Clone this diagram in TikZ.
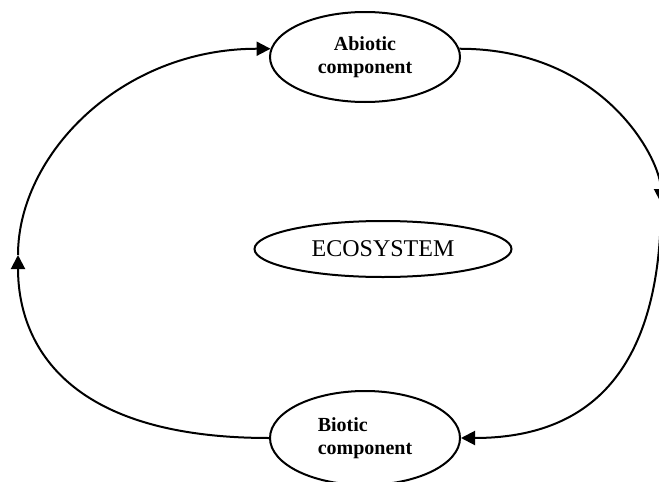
\documentclass[tikz,border=0pt]{standalone}
\usepackage{fontspec}
\setmainfont{Liberation Serif}
\usetikzlibrary{shapes.geometric,arrows.meta}
\tikzset{
  oval/.style={ellipse, draw, line width=2pt, inner sep=0pt},
  comp/.style={oval, minimum width=190pt, font=\fontsize{20}{23}\selectfont\bfseries},
  flow/.style={line width=2pt},
  tip/.style={flow, -{Triangle[length=14pt,width=14pt]}}
}
\begin{document}
\begin{tikzpicture}[x=1pt,y=-1pt]
  \useasboundingbox (0,0) rectangle (659,482);
  \clip (0,0) rectangle (659,482);

  % the three ovals
  \node[comp, minimum height=90pt, align=center] (abi) at (365,57) {Abiotic\\component};
  \node[comp, minimum height=94pt, align=left] (bio) at (365,438) {Biotic\\component};
  \node[oval, minimum width=257pt, minimum height=56pt,
        font=\fontsize{24}{28}\selectfont] (eco) at (383,249) {ECOSYSTEM\hspace{10pt}};

  % turning points of the cycle
  \coordinate (L) at (18,255);
  \coordinate (R) at (661,203);

  % abiotic -> biotic along the right side
  \draw[tip] (abi.5) .. controls +(145,0) and +(0,-43) .. (R);
  \draw[tip] (R) .. controls +(0,165) and +(131,0) .. (bio.east);

  % biotic -> abiotic along the left side
  \draw[tip] (bio.west) .. controls +(-224,0) and +(0,69) .. (L);
  \draw[tip] (L) .. controls +(0,-100) and +(-150,0) .. (abi.175);
\end{tikzpicture}
\end{document}
